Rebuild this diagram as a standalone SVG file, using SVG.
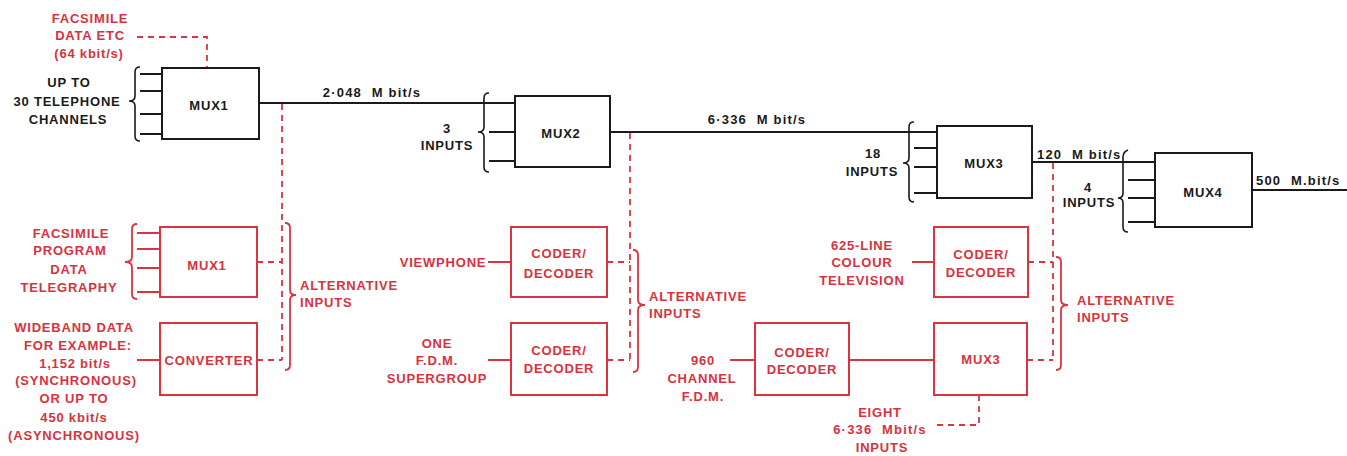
<svg xmlns="http://www.w3.org/2000/svg" width="1347" height="456" viewBox="0 0 1347 456">
<defs>
<style>
.bk{fill:none;stroke:#1a1a1a;stroke-width:2}
.rd{fill:none;stroke:#dc3340;stroke-width:2}
.rdd{fill:none;stroke:#dc3340;stroke-width:1.8;stroke-dasharray:6 5}
.br{fill:none;stroke:#1a1a1a;stroke-width:1.6}
.brr{fill:none;stroke:#dc3340;stroke-width:1.8}
text{font-family:"Liberation Sans",Arial,sans-serif;font-size:13px;font-weight:bold;letter-spacing:0.8px}
.t{fill:#1a1a1a}
.r{fill:#d8323e}
.m{text-anchor:middle}
.p{white-space:pre;letter-spacing:1.2px}
</style>
</defs>
<rect width="1347" height="456" fill="#ffffff"/>

<g id="connectors">
<path class="bk" d="M259,103 H515"/>
<path class="bk" d="M610,132 H937"/>
<path class="bk" d="M1032,162 H1155"/>
<path class="bk" d="M1252,190 H1347"/>
<path class="bk" d="M140,74 H162 M140,91 H162 M140,114 H162 M140,134 H162"/>
<path class="bk" d="M489,132 H515 M489,161 H515"/>
<path class="bk" d="M914,148 H937 M914,167 H937 M914,193 H937"/>
<path class="bk" d="M1128,180 H1155 M1128,198 H1155 M1128,222 H1155"/>
<path class="rd" d="M137,233 H160 M137,249 H160 M137,268 H160 M137,292 H160"/>
<path class="rd" d="M137,360 H160"/>
<path class="rd" d="M488,262 H511 M488,360 H511"/>
<path class="rd" d="M912,262 H934"/>
<path class="rd" d="M730,360 H755 M849,360 H934"/>
<path class="rdd" d="M137,37 H207 V68"/>
<path class="rdd" d="M282,104 V360 M257,262 H282 M257,360 H282"/>
<path class="rdd" d="M630,133 V360 M607,262 H630 M607,360 H630"/>
<path class="rdd" d="M1053,163 V360 M1028,262 H1053 M1027,360 H1053"/>
<path class="rdd" d="M979,395 V425 H937"/>
<path class="br" d="M140,67 Q135,67 135,72 L135,96 Q135,101 129,101 Q135,101 135,106 L135,136 Q135,141 140,141"/>
<path class="br" d="M489,93 Q484,93 484,98 L484,127 Q484,132 478,132 Q484,132 484,137 L484,167 Q484,172 489,172"/>
<path class="br" d="M914,122 Q909,122 909,127 L909,158 Q909,163 903,163 Q909,163 909,168 L909,197 Q909,202 914,202"/>
<path class="br" d="M1128,150 Q1123,152 1123,157 L1123,193 Q1123,198 1118,198 Q1123,198 1123,203 L1123,227 Q1123,232 1128,232"/>
<path class="brr" d="M137,224 Q132,224 132,229 L132,257 Q132,262 125,262 Q132,262 132,267 L132,294 Q132,299 137,299"/>
<path class="brr" d="M285,223 Q290,223 290,228 L290,290 Q290,295 296,295 Q290,295 290,300 L290,365 Q290,370 285,370"/>
<path class="brr" d="M633,250 Q638,250 638,255 L638,300 Q638,305 645,305 Q638,305 638,310 L638,367 Q638,372 633,372"/>
<path class="brr" d="M1056,257 Q1061,257 1061,262 L1061,300 Q1061,305 1068,305 Q1061,305 1061,310 L1061,365 Q1061,370 1056,370"/>
</g>

<g id="mux1">
<rect class="bk" x="162" y="68" width="97" height="71"/>
<text class="t m" x="209" y="110">MUX1</text>
</g>
<g id="mux1-inputs">
<text class="t m" x="69" y="87">UP TO</text>
<text class="t m" x="67" y="106">30 TELEPHONE</text>
<text class="t m" x="68" y="124">CHANNELS</text>
</g>
<g id="fax-top">
<text class="r m" x="90" y="23">FACSIMILE</text>
<text class="r m" x="90" y="40">DATA ETC</text>
<text class="r m" x="89" y="58">(64 kbit/s)</text>
</g>
<g id="rate1"><text class="t m p" x="372" y="97" xml:space="preserve">2·048  M bit/s</text></g>

<g id="mux2">
<rect class="bk" x="515" y="96" width="95" height="71"/>
<text class="t m" x="561" y="138">MUX2</text>
</g>
<g id="mux2-inputs">
<text class="t m" x="447" y="133">3</text>
<text class="t m" x="447" y="150">INPUTS</text>
</g>
<g id="rate2"><text class="t m p" x="757" y="124" xml:space="preserve">6·336  M bit/s</text></g>

<g id="mux3">
<rect class="bk" x="937" y="126" width="95" height="72"/>
<text class="t m" x="984" y="168">MUX3</text>
</g>
<g id="mux3-inputs">
<text class="t m" x="873" y="158">18</text>
<text class="t m" x="872" y="176">INPUTS</text>
</g>
<g id="rate3"><text class="t p" x="1037" y="159" xml:space="preserve">120  M bit/s</text></g>

<g id="mux4">
<rect class="bk" x="1155" y="153" width="97" height="74"/>
<text class="t m" x="1203" y="197">MUX4</text>
</g>
<g id="mux4-inputs">
<text class="t m" x="1088" y="192">4</text>
<text class="t m" x="1089" y="207">INPUTS</text>
</g>
<g id="rate4"><text class="t p" x="1256" y="185" xml:space="preserve">500  M.bit/s</text></g>

<g id="mux1-alt">
<rect class="rd" x="160" y="227" width="97" height="70"/>
<text class="r m" x="207" y="270">MUX1</text>
<text class="r m" x="71" y="238">FACSIMILE</text>
<text class="r m" x="70" y="255">PROGRAM</text>
<text class="r m" x="69" y="274">DATA</text>
<text class="r m" x="69" y="292">TELEGRAPHY</text>
</g>
<g id="converter">
<rect class="rd" x="160" y="323" width="97" height="72"/>
<text class="r m" x="209" y="365">CONVERTER</text>
<text class="r m" x="74" y="332">WIDEBAND DATA</text>
<text class="r m" x="78" y="350">FOR EXAMPLE:</text>
<text class="r m" x="75" y="368">1,152 bit/s</text>
<text class="r m" x="76" y="385">(SYNCHRONOUS)</text>
<text class="r m" x="74" y="403">OR UP TO</text>
<text class="r m" x="74" y="422">450 kbit/s</text>
<text class="r m" x="74" y="440">(ASYNCHRONOUS)</text>
</g>
<g id="alt1">
<text class="r" x="300" y="290">ALTERNATIVE</text>
<text class="r" x="300" y="307">INPUTS</text>
</g>

<g id="coder-viewphone">
<rect class="rd" x="511" y="227" width="96" height="70"/>
<text class="r m" x="559" y="258">CODER/</text>
<text class="r m" x="559" y="278">DECODER</text>
<text class="r m" x="443" y="267">VIEWPHONE</text>
</g>
<g id="coder-supergroup">
<rect class="rd" x="511" y="323" width="96" height="72"/>
<text class="r m" x="559" y="355">CODER/</text>
<text class="r m" x="559" y="373">DECODER</text>
<text class="r m" x="437" y="348">ONE</text>
<text class="r m" x="437" y="365">F.D.M.</text>
<text class="r m" x="437" y="383">SUPERGROUP</text>
</g>
<g id="alt2">
<text class="r" x="649" y="301">ALTERNATIVE</text>
<text class="r" x="649" y="318">INPUTS</text>
</g>

<g id="coder-tv">
<rect class="rd" x="934" y="227" width="94" height="70"/>
<text class="r m" x="981" y="259">CODER/</text>
<text class="r m" x="981" y="277">DECODER</text>
<text class="r m" x="862" y="250">625-LINE</text>
<text class="r m" x="862" y="267">COLOUR</text>
<text class="r m" x="862" y="285">TELEVISION</text>
</g>
<g id="coder-fdm">
<rect class="rd" x="755" y="323" width="94" height="72"/>
<text class="r m" x="802" y="357">CODER/</text>
<text class="r m" x="802" y="374">DECODER</text>
<text class="r m" x="703" y="365">960</text>
<text class="r m" x="702" y="383">CHANNEL</text>
<text class="r m" x="703" y="401">F.D.M.</text>
</g>
<g id="mux3-alt">
<rect class="rd" x="934" y="323" width="93" height="72"/>
<text class="r m" x="981" y="364">MUX3</text>
<text class="r m" x="880" y="417">EIGHT</text>
<text class="r m p" x="880" y="434" xml:space="preserve">6·336  Mbit/s</text>
<text class="r m" x="882" y="452">INPUTS</text>
</g>
<g id="alt3">
<text class="r" x="1077" y="305">ALTERNATIVE</text>
<text class="r" x="1077" y="322">INPUTS</text>
</g>
</svg>
